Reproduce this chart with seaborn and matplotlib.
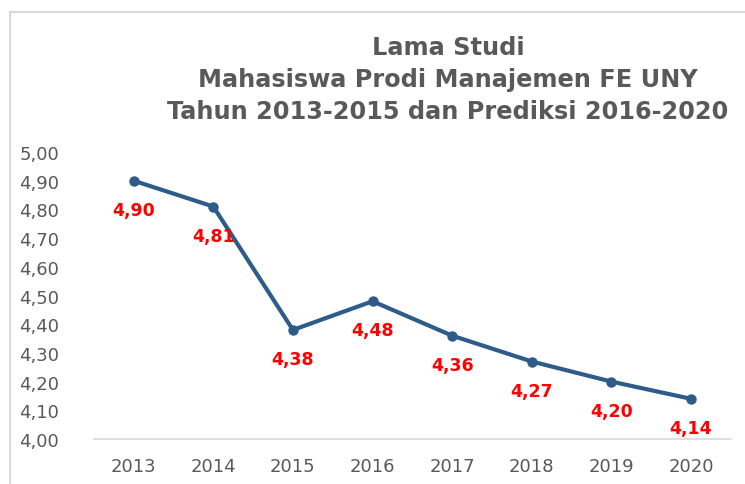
import matplotlib
matplotlib.use("Agg")
import matplotlib.pyplot as plt
import seaborn as sns
import pandas as pd
from matplotlib.lines import Line2D

years = ["2013", "2014", "2015", "2016", "2017", "2018", "2019", "2020"]
values = [4.90, 4.81, 4.38, 4.48, 4.36, 4.27, 4.20, 4.14]
labels = ["4,90", "4,81", "4,38", "4,48", "4,36", "4,27", "4,20", "4,14"]
yticks = [4.0, 4.1, 4.2, 4.3, 4.4, 4.5, 4.6, 4.7, 4.8, 4.9, 5.0]
title_lines = ["Lama Studi",
               "Mahasiswa Prodi Manajemen FE UNY",
               "Tahun 2013-2015 dan Prediksi 2016-2020"]

df = pd.DataFrame({"Tahun": years, "Lama": values})

sns.set_style("white")
plt.rcParams["font.family"] = ["DejaVu Sans"]

fig = plt.figure(figsize=(7.45, 4.85), dpi=100)
ax = fig.add_axes([0.126, 0.0928, 0.855, 0.5917])

line_color = "#2E5C8A"
sns.lineplot(data=df, x="Tahun", y="Lama", ax=ax, color=line_color,
             linewidth=3.0, marker="o", markersize=7.5, markeredgewidth=0,
             sort=False)

for i, (v, lab) in enumerate(zip(values, labels)):
    ax.annotate(lab, (i, v), xytext=(0, -29), textcoords="offset pixels",
                ha="center", va="center", color="#FF0000",
                fontsize=12.5, fontweight="bold")

ax.set_xlim(-0.5, len(years) - 0.5)
ax.set_ylim(4.0, 5.0)
ax.set_yticks(yticks)
ax.set_yticklabels([f"{t:.2f}".replace(".", ",") for t in yticks])
ax.set_xlabel("")
ax.set_ylabel("")
for s in ["top", "right", "left"]:
    ax.spines[s].set_visible(False)
ax.spines["bottom"].set_color("#D9D9D9")
ax.spines["bottom"].set_linewidth(1.2)
ax.tick_params(axis="both", length=0, labelsize=13, colors="#595959")
ax.tick_params(axis="y", pad=25)
ax.tick_params(axis="x", pad=13)
ax.grid(False)

ys = [48, 80, 112]
for t, y in zip(title_lines, ys):
    fig.text(448 / 745, 1 - y / 485, t, ha="center", va="center",
             fontsize=17.3, fontweight="bold", color="#595959")

# chart border (top and left visible)
fig.add_artist(Line2D([10 / 745, 1], [1 - 13 / 485, 1 - 13 / 485],
                      transform=fig.transFigure, color="#D9D9D9", linewidth=1.5))
fig.add_artist(Line2D([10 / 745, 10 / 745], [0, 1 - 13 / 485],
                      transform=fig.transFigure, color="#D9D9D9", linewidth=1.5))

fig.savefig("out.png", dpi=100)
